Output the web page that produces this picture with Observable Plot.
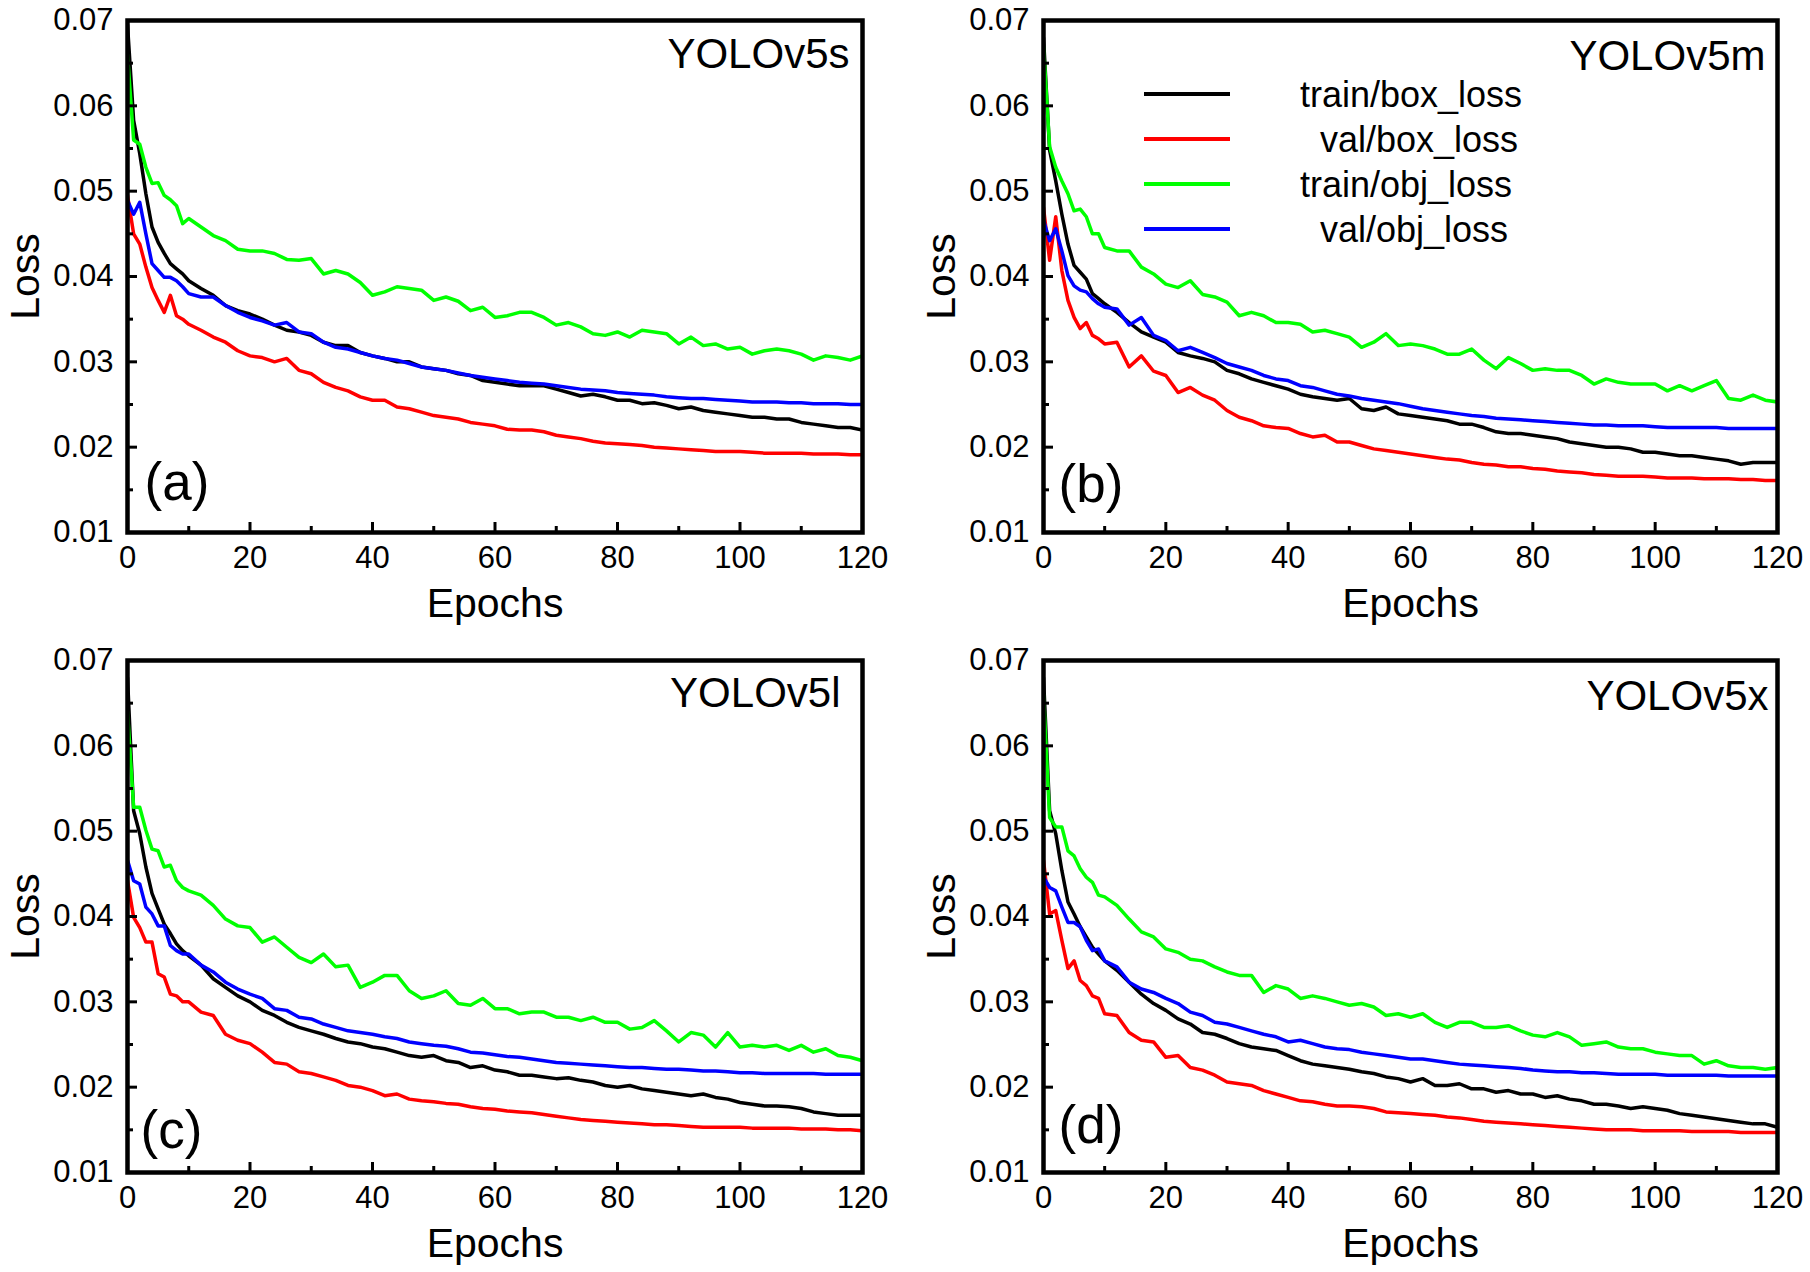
<!DOCTYPE html>
<html>
<head>
<meta charset="utf-8">
<script src="https://cdn.jsdelivr.net/npm/d3@7"></script>
<script src="https://cdn.jsdelivr.net/npm/@observablehq/plot@0.6"></script>
<style>
  html, body { margin: 0; padding: 0; background: #ffffff; }
  #fig { position: relative; width: 1810px; height: 1272px; background: #ffffff;
         font-family: "Liberation Sans", Arial, Helvetica, sans-serif; }
  .panel { position: absolute; width: 905px; height: 636px; }
  .panel svg { max-width: none !important; display: block; }
  #legend { position: absolute; left: 0; top: 0; pointer-events: none; }
</style>
</head>
<body>
<div id="fig"></div>
<script>
// ---------- data ----------
const epochs = [0,1,2,3,4,5,6,7,8,9,10,
  12,14,16,18,20,22,24,26,28,30,32,34,36,38,40,
  42,44,46,48,50,52,54,56,58,60,62,64,66,68,70,72,74,76,78,80,
  82,84,86,88,90,92,94,96,98,100,102,104,106,108,110,112,114,116,118,120];

const seriesNames = ["train/box_loss", "val/box_loss", "train/obj_loss", "val/obj_loss"];
const seriesColors = ["#000000", "#ff0000", "#00ff00", "#0000ff"];
const modelNames = ["YOLOv5s", "YOLOv5m", "YOLOv5l", "YOLOv5x"];
const panelTags = ["(a)", "(b)", "(c)", "(d)"];
const xTicks = [0, 20, 40, 60, 80, 100, 120];
const xMinorTicks = [10, 30, 50, 70, 90, 110];
const yTicks = [0.01, 0.02, 0.03, 0.04, 0.05, 0.06, 0.07];
const yMinorTicks = [0.015, 0.025, 0.035, 0.045, 0.055, 0.065];
const xLabel = "Epochs";
const yLabel = "Loss";

// (a) YOLOv5s
const a_trainBox = [0.0695,0.0583,0.0544,0.0497,0.0458,0.0440,0.0427,0.0415,0.0409,0.0403,0.0395,
  0.0386,0.0378,0.0366,0.0360,0.0356,0.0350,0.0343,0.0337,0.0335,0.0331,0.0323,0.0319,0.0319,0.0311,0.0307,
  0.0304,0.0300,0.0300,0.0294,0.0292,0.0290,0.0286,0.0284,0.0278,0.0276,0.0274,0.0272,0.0272,0.0272,0.0268,0.0264,0.0260,0.0262,0.0259,0.0255,
  0.0255,0.0251,0.0252,0.0249,0.0245,0.0247,0.0243,0.0241,0.0239,0.0237,0.0235,0.0235,0.0233,0.0233,0.0229,0.0227,0.0225,0.0223,0.0223,0.0220];
const a_valBox = [0.0495,0.0450,0.0438,0.0411,0.0387,0.0372,0.0358,0.0378,0.0354,0.0350,0.0344,
  0.0337,0.0329,0.0323,0.0313,0.0307,0.0305,0.0300,0.0304,0.0290,0.0286,0.0276,0.0270,0.0266,0.0259,0.0255,
  0.0255,0.0247,0.0245,0.0241,0.0237,0.0235,0.0233,0.0229,0.0227,0.0225,0.0221,0.0220,0.0220,0.0218,0.0214,0.0212,0.0210,0.0207,0.0205,0.0204,
  0.0203,0.0202,0.0200,0.0199,0.0198,0.0197,0.0196,0.0195,0.0195,0.0195,0.0194,0.0193,0.0193,0.0193,0.0193,0.0192,0.0192,0.0192,0.0191,0.0191];
const a_trainObj = [0.0660,0.0560,0.0555,0.0528,0.0509,0.0510,0.0495,0.0490,0.0483,0.0462,0.0468,
  0.0458,0.0448,0.0442,0.0432,0.0430,0.0430,0.0427,0.0420,0.0419,0.0421,0.0403,0.0407,0.0403,0.0393,0.0378,
  0.0382,0.0388,0.0386,0.0384,0.0372,0.0376,0.0371,0.0360,0.0364,0.0352,0.0354,0.0358,0.0358,0.0352,0.0343,0.0346,0.0341,0.0333,0.0331,0.0335,
  0.0329,0.0337,0.0335,0.0333,0.0321,0.0329,0.0319,0.0321,0.0315,0.0317,0.0309,0.0313,0.0315,0.0313,0.0309,0.0302,0.0307,0.0305,0.0302,0.0307];
const a_valObj = [0.0489,0.0473,0.0487,0.0450,0.0415,0.0407,0.0399,0.0399,0.0395,0.0388,0.0380,
  0.0376,0.0376,0.0366,0.0358,0.0352,0.0348,0.0343,0.0346,0.0335,0.0333,0.0323,0.0317,0.0315,0.0311,0.0307,
  0.0304,0.0302,0.0298,0.0294,0.0292,0.0290,0.0287,0.0284,0.0282,0.0280,0.0278,0.0276,0.0275,0.0274,0.0272,0.0270,0.0268,0.0267,0.0266,0.0264,
  0.0263,0.0262,0.0261,0.0259,0.0258,0.0257,0.0257,0.0256,0.0255,0.0254,0.0253,0.0253,0.0253,0.0252,0.0252,0.0251,0.0251,0.0251,0.0250,0.0250];

// (b) YOLOv5m
const b_trainBox = [0.0680,0.0548,0.0512,0.0473,0.0438,0.0413,0.0405,0.0397,0.0380,0.0374,0.0368,
  0.0358,0.0346,0.0335,0.0329,0.0323,0.0311,0.0307,0.0304,0.0300,0.0290,0.0286,0.0280,0.0276,0.0272,0.0268,
  0.0262,0.0259,0.0257,0.0255,0.0257,0.0245,0.0243,0.0247,0.0239,0.0237,0.0235,0.0233,0.0231,0.0227,0.0227,0.0223,0.0218,0.0216,0.0216,0.0214,
  0.0212,0.0210,0.0206,0.0204,0.0202,0.0200,0.0200,0.0198,0.0194,0.0194,0.0192,0.0190,0.0190,0.0188,0.0186,0.0184,0.0180,0.0182,0.0182,0.0182];
const b_valBox = [0.0481,0.0419,0.0470,0.0407,0.0372,0.0352,0.0339,0.0346,0.0331,0.0327,0.0321,
  0.0323,0.0294,0.0307,0.0289,0.0284,0.0264,0.0270,0.0261,0.0255,0.0243,0.0235,0.0231,0.0225,0.0223,0.0222,
  0.0216,0.0212,0.0214,0.0206,0.0206,0.0202,0.0198,0.0196,0.0194,0.0192,0.0190,0.0188,0.0186,0.0185,0.0182,0.0180,0.0179,0.0177,0.0177,0.0175,
  0.0174,0.0172,0.0171,0.0170,0.0168,0.0167,0.0166,0.0166,0.0166,0.0165,0.0164,0.0164,0.0164,0.0163,0.0163,0.0163,0.0162,0.0162,0.0161,0.0161];
const b_trainObj = [0.0670,0.0552,0.0528,0.0512,0.0497,0.0477,0.0479,0.0470,0.0450,0.0450,0.0434,
  0.0430,0.0430,0.0411,0.0403,0.0391,0.0387,0.0395,0.0379,0.0376,0.0370,0.0354,0.0358,0.0354,0.0346,0.0346,
  0.0344,0.0335,0.0337,0.0333,0.0329,0.0317,0.0323,0.0333,0.0319,0.0321,0.0319,0.0315,0.0309,0.0309,0.0315,0.0302,0.0292,0.0305,0.0298,0.0290,
  0.0292,0.0290,0.0290,0.0284,0.0274,0.0280,0.0276,0.0274,0.0274,0.0274,0.0266,0.0272,0.0266,0.0272,0.0278,0.0257,0.0255,0.0261,0.0255,0.0253];
const b_valObj = [0.0466,0.0442,0.0456,0.0430,0.0401,0.0389,0.0384,0.0382,0.0374,0.0368,0.0364,
  0.0362,0.0343,0.0352,0.0331,0.0325,0.0313,0.0317,0.0311,0.0305,0.0298,0.0294,0.0290,0.0284,0.0280,0.0278,
  0.0272,0.0270,0.0266,0.0262,0.0260,0.0257,0.0255,0.0253,0.0251,0.0248,0.0245,0.0243,0.0241,0.0239,0.0237,0.0236,0.0234,0.0233,0.0232,0.0231,
  0.0230,0.0229,0.0228,0.0227,0.0226,0.0226,0.0225,0.0225,0.0225,0.0224,0.0223,0.0223,0.0223,0.0223,0.0223,0.0222,0.0222,0.0222,0.0222,0.0222];

// (c) YOLOv5l
const c_trainBox = [0.0680,0.0524,0.0497,0.0458,0.0427,0.0409,0.0391,0.0380,0.0368,0.0360,0.0354,
  0.0343,0.0327,0.0317,0.0307,0.0300,0.0290,0.0284,0.0276,0.0270,0.0266,0.0262,0.0257,0.0253,0.0251,0.0247,
  0.0245,0.0241,0.0237,0.0235,0.0237,0.0231,0.0229,0.0223,0.0225,0.0220,0.0218,0.0214,0.0214,0.0212,0.0210,0.0211,0.0208,0.0206,0.0202,0.0200,
  0.0202,0.0198,0.0196,0.0194,0.0192,0.0190,0.0192,0.0188,0.0186,0.0182,0.0180,0.0178,0.0178,0.0177,0.0175,0.0171,0.0169,0.0167,0.0167,0.0167];
const c_valBox = [0.0442,0.0399,0.0387,0.0370,0.0370,0.0333,0.0329,0.0309,0.0307,0.0300,0.0300,
  0.0288,0.0284,0.0262,0.0255,0.0251,0.0241,0.0229,0.0227,0.0218,0.0216,0.0212,0.0208,0.0202,0.0200,0.0196,
  0.0190,0.0192,0.0186,0.0184,0.0183,0.0181,0.0180,0.0177,0.0175,0.0174,0.0172,0.0171,0.0170,0.0168,0.0166,0.0164,0.0162,0.0161,0.0160,0.0159,
  0.0158,0.0157,0.0156,0.0156,0.0155,0.0154,0.0153,0.0153,0.0153,0.0153,0.0152,0.0152,0.0152,0.0152,0.0151,0.0151,0.0151,0.0150,0.0150,0.0149];
const c_trainObj = [0.0640,0.0528,0.0528,0.0501,0.0479,0.0477,0.0458,0.0460,0.0442,0.0434,0.0430,
  0.0425,0.0413,0.0397,0.0389,0.0387,0.0370,0.0376,0.0364,0.0352,0.0346,0.0356,0.0341,0.0343,0.0317,0.0323,
  0.0331,0.0331,0.0313,0.0304,0.0307,0.0313,0.0298,0.0296,0.0304,0.0292,0.0292,0.0286,0.0288,0.0288,0.0282,0.0282,0.0278,0.0282,0.0276,0.0276,
  0.0268,0.0270,0.0278,0.0266,0.0253,0.0264,0.0261,0.0247,0.0264,0.0247,0.0249,0.0247,0.0249,0.0243,0.0249,0.0241,0.0245,0.0237,0.0235,0.0231];
const c_valObj = [0.0466,0.0442,0.0438,0.0411,0.0403,0.0389,0.0389,0.0366,0.0360,0.0356,0.0356,
  0.0343,0.0335,0.0323,0.0315,0.0309,0.0304,0.0292,0.0290,0.0282,0.0280,0.0274,0.0270,0.0266,0.0264,0.0262,
  0.0259,0.0257,0.0253,0.0251,0.0249,0.0248,0.0245,0.0241,0.0240,0.0238,0.0236,0.0235,0.0233,0.0231,0.0229,0.0228,0.0227,0.0226,0.0225,0.0224,
  0.0223,0.0223,0.0222,0.0221,0.0221,0.0220,0.0219,0.0219,0.0218,0.0217,0.0217,0.0216,0.0216,0.0216,0.0216,0.0216,0.0215,0.0215,0.0215,0.0215];

// (d) YOLOv5x
const d_trainBox = [0.0680,0.0524,0.0497,0.0454,0.0417,0.0403,0.0388,0.0376,0.0364,0.0356,0.0348,
  0.0337,0.0323,0.0309,0.0298,0.0290,0.0280,0.0274,0.0264,0.0262,0.0257,0.0251,0.0247,0.0245,0.0243,0.0237,
  0.0231,0.0227,0.0225,0.0223,0.0221,0.0218,0.0216,0.0212,0.0210,0.0206,0.0210,0.0202,0.0202,0.0204,0.0198,0.0198,0.0194,0.0196,0.0192,0.0192,
  0.0188,0.0190,0.0186,0.0184,0.0180,0.0180,0.0178,0.0175,0.0177,0.0175,0.0173,0.0169,0.0167,0.0165,0.0163,0.0161,0.0159,0.0157,0.0157,0.0153];
const d_valBox = [0.0466,0.0403,0.0407,0.0372,0.0339,0.0348,0.0325,0.0319,0.0307,0.0304,0.0286,
  0.0284,0.0264,0.0255,0.0253,0.0235,0.0237,0.0223,0.0220,0.0214,0.0206,0.0204,0.0202,0.0196,0.0192,0.0188,
  0.0184,0.0183,0.0180,0.0178,0.0178,0.0177,0.0175,0.0171,0.0170,0.0169,0.0168,0.0167,0.0165,0.0164,0.0162,0.0160,0.0159,0.0158,0.0157,0.0156,
  0.0155,0.0154,0.0153,0.0152,0.0151,0.0150,0.0150,0.0150,0.0149,0.0149,0.0149,0.0149,0.0148,0.0148,0.0148,0.0148,0.0147,0.0147,0.0147,0.0147];
const d_trainObj = [0.0660,0.0516,0.0505,0.0505,0.0477,0.0471,0.0456,0.0446,0.0440,0.0425,0.0423,
  0.0413,0.0397,0.0382,0.0376,0.0362,0.0358,0.0350,0.0348,0.0341,0.0335,0.0331,0.0331,0.0311,0.0319,0.0315,
  0.0304,0.0307,0.0304,0.0300,0.0296,0.0298,0.0294,0.0284,0.0286,0.0282,0.0286,0.0276,0.0270,0.0276,0.0276,0.0270,0.0270,0.0272,0.0266,0.0261,
  0.0259,0.0264,0.0259,0.0249,0.0251,0.0253,0.0247,0.0245,0.0245,0.0241,0.0239,0.0237,0.0237,0.0227,0.0231,0.0225,0.0223,0.0223,0.0221,0.0223];
const d_valObj = [0.0446,0.0434,0.0430,0.0411,0.0393,0.0393,0.0388,0.0372,0.0360,0.0362,0.0348,
  0.0341,0.0323,0.0315,0.0311,0.0304,0.0298,0.0288,0.0284,0.0276,0.0274,0.0270,0.0266,0.0262,0.0259,0.0253,
  0.0255,0.0251,0.0247,0.0245,0.0244,0.0241,0.0239,0.0237,0.0235,0.0233,0.0233,0.0231,0.0229,0.0227,0.0226,0.0225,0.0224,0.0223,0.0222,0.0220,
  0.0219,0.0218,0.0218,0.0217,0.0217,0.0216,0.0215,0.0215,0.0215,0.0215,0.0214,0.0214,0.0214,0.0214,0.0214,0.0213,0.0213,0.0213,0.0213,0.0213];

const panelSeries = [
  [a_trainBox, a_valBox, a_trainObj, a_valObj],
  [b_trainBox, b_valBox, b_trainObj, b_valObj],
  [c_trainBox, c_valBox, c_trainObj, c_valObj],
  [d_trainBox, d_valBox, d_trainObj, d_valObj]
];

// ---------- layout (styles only) ----------
const FONT = "Liberation Sans, Arial, Helvetica, sans-serif";
const panelLayout = [
  {left: 0,   top: 0,   ml: 127, mr: 43, mt: 20, mb: 104, nameDx: -13, nameDy: 18, tagDx: 17, tagDy: -33},
  {left: 905, top: 0,   ml: 138, mr: 33, mt: 20, mb: 104, nameDx: -12, nameDy: 20, tagDx: 15, tagDy: -31},
  {left: 0,   top: 636, ml: 127, mr: 43, mt: 24, mb: 100, nameDx: -22, nameDy: 17, tagDx: 13, tagDy: -25},
  {left: 905, top: 636, ml: 138, mr: 33, mt: 24, mb: 100, nameDx: -9,  nameDy: 20, tagDx: 15, tagDy: -30}
];
const W = 905, H = 636;

const fig = document.getElementById("fig");

panelSeries.forEach((series, p) => {
  const L = panelLayout[p];
  const frameW = W - L.ml - L.mr;
  const frameH = H - L.mt - L.mb;
  const rows = [];
  series.forEach((vals, s) => {
    epochs.forEach((e, k) => rows.push({epoch: e, loss: vals[k], series: seriesNames[s]}));
  });

  const chart = Plot.plot({
    width: W, height: H,
    marginLeft: L.ml, marginRight: L.mr, marginTop: L.mt, marginBottom: L.mb,
    style: {fontFamily: FONT, background: "transparent", color: "#000", overflow: "visible"},
    x: {domain: [0, 120]},
    y: {domain: [0.01, 0.07]},
    color: {domain: seriesNames, range: seriesColors},
    marks: [
      Plot.line(rows, {x: "epoch", y: "loss", z: "series", stroke: "series", strokeWidth: 3.5, clip: true, strokeLinejoin: "round"}),
      Plot.ruleX(xTicks, {x: d => d, insetTop: frameH - 10, stroke: "#000", strokeWidth: 3}),
      Plot.ruleX(xMinorTicks, {x: d => d, insetTop: frameH - 6, stroke: "#000", strokeWidth: 3}),
      Plot.ruleY(yTicks, {y: d => d, insetRight: frameW - 10, stroke: "#000", strokeWidth: 3}),
      Plot.ruleY(yMinorTicks, {y: d => d, insetRight: frameW - 6, stroke: "#000", strokeWidth: 3}),
      Plot.frame({stroke: "#000", strokeWidth: 4.5}),
      Plot.axisX({ticks: xTicks, tickSize: 0, tickPadding: 13, fontSize: 31, label: null, tickFormat: d => String(d), fill: "#000"}),
      Plot.axisY({ticks: yTicks, tickSize: 0, tickPadding: 14, fontSize: 31, label: null, tickFormat: d3.format(".2f"), fill: "#000"}),
      Plot.text([modelNames[p]], {text: d => d, frameAnchor: "top-right", textAnchor: "end", lineAnchor: "top",
        dx: L.nameDx, dy: L.nameDy, fontSize: 42, fill: "#000"}),
      Plot.text([panelTags[p]], {text: d => d, frameAnchor: "bottom-left", textAnchor: "start", lineAnchor: "bottom",
        dx: L.tagDx, dy: L.tagDy, fontSize: 53, fill: "#000"}),
      Plot.text([xLabel], {text: d => d, frameAnchor: "bottom", textAnchor: "middle", lineAnchor: "bottom",
        dy: 84, fontSize: 41, fill: "#000"}),
      Plot.text([yLabel], {text: d => d, frameAnchor: "left", textAnchor: "middle", lineAnchor: "bottom",
        rotate: -90, dx: -89, fontSize: 41, fill: "#000"})
    ]
  });

  const div = document.createElement("div");
  div.className = "panel";
  div.style.left = L.left + "px";
  div.style.top = L.top + "px";
  div.appendChild(chart);
  fig.appendChild(div);
});

// ---------- legend (inside panel b) ----------
const legendX1 = 1144, legendX2 = 1230, legendY0 = 94, legendStep = 45;
const legendTextX = [1300, 1320, 1300, 1320];
const legend = d3.create("svg")
  .attr("id", "legend")
  .attr("width", 1810).attr("height", 1272);
const items = legend.selectAll("g").data(seriesNames).join("g")
  .attr("transform", (d, i) => `translate(0,${legendY0 + i * legendStep})`);
items.append("line")
  .attr("x1", legendX1).attr("x2", legendX2).attr("y1", 0).attr("y2", 0)
  .attr("stroke", (d, i) => seriesColors[i]).attr("stroke-width", 4);
items.append("text")
  .attr("x", (d, i) => legendTextX[i]).attr("y", 13)
  .attr("font-family", FONT).attr("font-size", 36).attr("fill", "#000")
  .text(d => d);
fig.appendChild(legend.node());
</script>
</body>
</html>
